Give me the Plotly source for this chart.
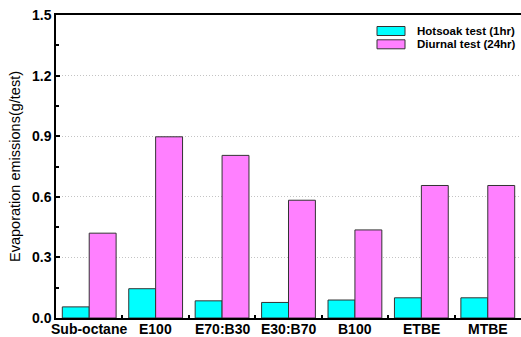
import plotly.graph_objects as go

fuels = ["Sub-octane", "E100", "E70:B30", "E30:B70", "B100", "ETBE", "MTBE"]
hotsoak = [0.055, 0.145, 0.085, 0.077, 0.089, 0.10, 0.10]
diurnal = [0.42, 0.897, 0.805, 0.583, 0.436, 0.656, 0.656]
series_names = ["Hotsoak test (1hr)", "Diurnal test (24hr)"]
series_colors = ["#00FFFF", "#FF80FF"]
y_ticks = [0.0, 0.3, 0.6, 0.9, 1.2, 1.5]

FONT = "Liberation Sans, Arial, sans-serif"

fig = go.Figure()
for name, vals, col in zip(series_names, [hotsoak, diurnal], series_colors):
    fig.add_trace(go.Bar(
        x=fuels, y=vals, name=name, marker_color=col,
        marker_line=dict(color="#333333", width=1), showlegend=False,
    ))

# hand-built legend block in the upper right
legend_shapes = []
notes = []
for i, (name, col) in enumerate(zip(series_names, series_colors)):
    y0 = 26.5 + i * 13.3
    legend_shapes.append(dict(
        type="rect", xref="paper", yref="paper",
        x0=(377 - 56) / 465, x1=(405 - 56) / 465,
        y0=1 - (y0 + 9 - 15) / 303, y1=1 - (y0 - 15) / 303,
        fillcolor=col, line=dict(color="#333333", width=1),
    ))
    notes.append(dict(
        xref="paper", yref="paper", x=(415 - 56) / 465,
        y=1 - (y0 + 4.5 - 15) / 303, xanchor="left", yanchor="middle",
        text=f"<b>{name}</b>", showarrow=False,
        font=dict(family=FONT, size=11.5, color="black"),
    ))

# category labels set tight under the axis line
for f in fuels:
    notes.append(dict(
        xref="x", yref="paper", x=f, y=0, xanchor="center", yanchor="top",
        yshift=-1, text=f"<b>{f}</b>", showarrow=False,
        font=dict(family=FONT, size=14, color="black"),
    ))

fig.update_layout(
    width=521, height=337,
    margin=dict(l=56, r=0, t=15, b=19),
    plot_bgcolor="white", paper_bgcolor="white",
    barmode="group", bargap=0.19, bargroupgap=0,
    font=dict(family=FONT, color="black"),
    shapes=legend_shapes, annotations=notes,
    xaxis=dict(
        range=[-0.5, 6.5], automargin=False, showticklabels=False,
        showline=True, linecolor="black", linewidth=1.5, mirror=True,
        ticks="inside", ticklen=3, tickwidth=1.5, tickcolor="black",
        tickson="boundaries", showgrid=False,
    ),
    yaxis=dict(
        range=[0, 1.5], tickvals=y_ticks, automargin=False,
        ticktext=[f"<b>{v:.1f}</b>" for v in y_ticks],
        showline=True, linecolor="black", linewidth=1.5,
        ticks="inside", ticklen=4, tickwidth=1.5, tickcolor="black",
        minor=dict(dtick=0.15, ticks="inside", ticklen=3, tickcolor="black", showgrid=False),
        showgrid=True, gridcolor="#c4c4c4", griddash="1px,2px", gridwidth=1,
        zeroline=False,
        tickfont=dict(family=FONT, size=14, color="black"),
        title=dict(text="Evaporation emissions(g/test)",
                   font=dict(family=FONT, size=14.5, color="black"), standoff=8),
    ),
)

fig.write_html("out.html")
